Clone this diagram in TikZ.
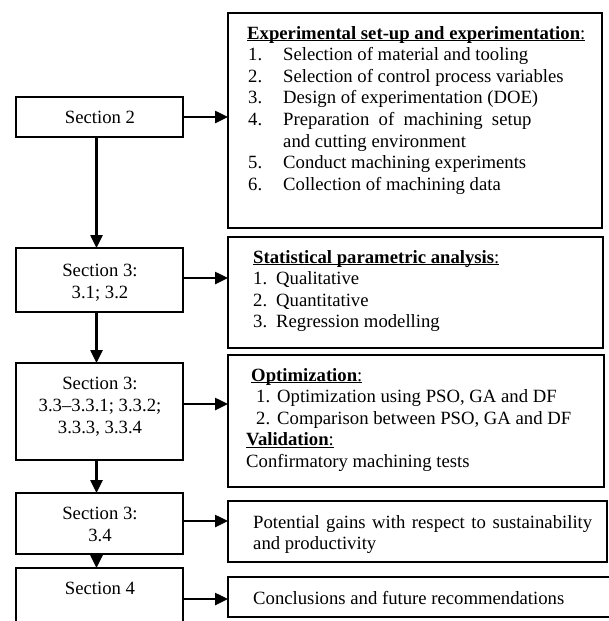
\documentclass[tikz,border=0pt]{standalone}
\usepackage{fontspec}
\setmainfont{Liberation Serif}
\usetikzlibrary{arrows.meta}
\newcommand\myul[1]{\setbox0\hbox{#1}\rlap{\rule[-2.4pt]{\wd0}{1.1pt}}\box0}
\newcommand\num[2]{\makebox[#1][l]{#2}}
\tikzset{
  box/.style={draw, line width=2.5pt, anchor=north west, inner sep=0pt, outer sep=0pt},
  txt/.style={anchor=base west, inner sep=0pt, font=\fontsize{18.7}{21.6}\selectfont},
  ctxt/.style={anchor=base, inner sep=0pt, font=\fontsize{18.7}{21.6}\selectfont},
  arr/.style={line width=2.5pt, -{Triangle[length=13pt,width=12pt]}},
}
\begin{document}
\begin{tikzpicture}[x=1pt,y=-1pt]
\useasboundingbox (0,0) rectangle (608,621);
% left boxes
\node[box, minimum width=167, minimum height=40] (s2) at (16,97) {};
\node[box, minimum width=167, minimum height=64] (s31) at (16,248) {};
\node[box, minimum width=167, minimum height=97] (s33) at (16,363) {};
\node[box, minimum width=167, minimum height=61] (s34) at (16,493) {};
\node[box, minimum width=167, minimum height=75] (s4) at (16,568) {};
% right boxes
\node[box, minimum width=374, minimum height=215] (r1) at (228,13) {};
\node[box, minimum width=375, minimum height=111] (r2) at (228,237) {};
\node[box, minimum width=376, minimum height=132] (r3) at (228,355) {};
\node[box, minimum width=379, minimum height=61] (r4) at (228,501) {};
\node[box, minimum width=384, minimum height=40] (r5) at (228,577) {};
% left texts
\node[ctxt] (t2) at (100,123) {Section 2};
\node[ctxt] (t31a) at (100,276) {Section 3:};
\node[ctxt] (t31b) at (100,298) {3.1; 3.2};
\node[ctxt] (t33a) at (100,389) {Section 3:};
\node[ctxt] (t33b) at (100,411) {3.3--3.3.1; 3.3.2;};
\node[ctxt] (t33c) at (100,433) {3.3.3, 3.3.4};
\node[ctxt] (t34a) at (100,519) {Section 3:};
\node[ctxt] (t34b) at (100,541) {3.4};
\node[ctxt] (t4) at (100,594) {Section 4};
% box 1 texts
\node[txt] (h1) at (247,39) {\myul{\textbf{Experimental set-up and experimentation}:}};
\node[txt] (i11) at (248,60.6) {\num{35pt}{1.}Selection of material and tooling};
\node[txt] (i12) at (248,82.2) {\num{35pt}{2.}Selection of control process variables};
\node[txt] (i13) at (248,103.8) {\num{35pt}{3.}Design of experimentation (DOE)};
\node[txt] (i14) at (248,125.4) {\num{35pt}{4.}Preparation\ \ of\ \ machining\ \ setup};
\node[txt] (i14b) at (248,147) {\num{35pt}{}and cutting environment};
\node[txt] (i15) at (248,168.6) {\num{35pt}{5.}Conduct machining experiments};
\node[txt] (i16) at (248,190.2) {\num{35pt}{6.}Collection of machining data};
% box 2 texts
\node[txt] (h2) at (253,263) {\myul{\textbf{Statistical parametric analysis}:}};
\node[txt] (i21) at (253,284.6) {\num{23pt}{1.}Qualitative};
\node[txt] (i22) at (253,306.2) {\num{23pt}{2.}Quantitative};
\node[txt] (i23) at (253,327.8) {\num{23pt}{3.}Regression modelling};
% box 3 texts
\node[txt] (h3) at (251,381) {\myul{\textbf{Optimization}:}};
\node[txt] (i31) at (256,402.6) {\num{21pt}{1.}Optimization using PSO, GA and DF};
\node[txt] (i32) at (256,424.2) {\num{21pt}{2.}Comparison between PSO, GA and DF};
\node[txt] (h3b) at (246,445.8) {\myul{\textbf{Validation}:}};
\node[txt] (i33) at (246,467.4) {Confirmatory machining tests};
% box 4 texts
\node[txt] (i41) at (253,528) {\makebox[339pt][s]{Potential gains with respect to sustainability}};
\node[txt] (i42) at (253,549.6) {and productivity};
% box 5 text
\node[txt] (i51) at (253,604) {Conclusions and future recommendations};
% vertical arrows
\draw[arr] ([xshift=-3pt]s2.south) -- ([xshift=-3pt]s31.north);
\draw[arr] ([xshift=-3pt]s31.south) -- ([xshift=-3pt]s33.north);
\draw[arr] ([xshift=-3pt]s33.south) -- ([xshift=-3pt]s34.north);
\draw[arr] ([xshift=-3pt]s34.south) -- ([xshift=-3pt]s4.north);
% horizontal arrows
\coordinate (a1) at (s2.east);
\coordinate (a2) at ([yshift=2pt]s31.east);
\coordinate (a3) at ([yshift=7.5pt]s33.east);
\coordinate (a4) at ([yshift=2.5pt]s34.east);
\coordinate (a5) at (183,599);
\draw[arr] (a1) -- (a1 -| r1.west);
\draw[arr] (a2) -- (a2 -| r2.west);
\draw[arr] (a3) -- (a3 -| r3.west);
\draw[arr] (a4) -- (a4 -| r4.west);
\draw[arr] (a5) -- (a5 -| r5.west);
\end{tikzpicture}
\end{document}
